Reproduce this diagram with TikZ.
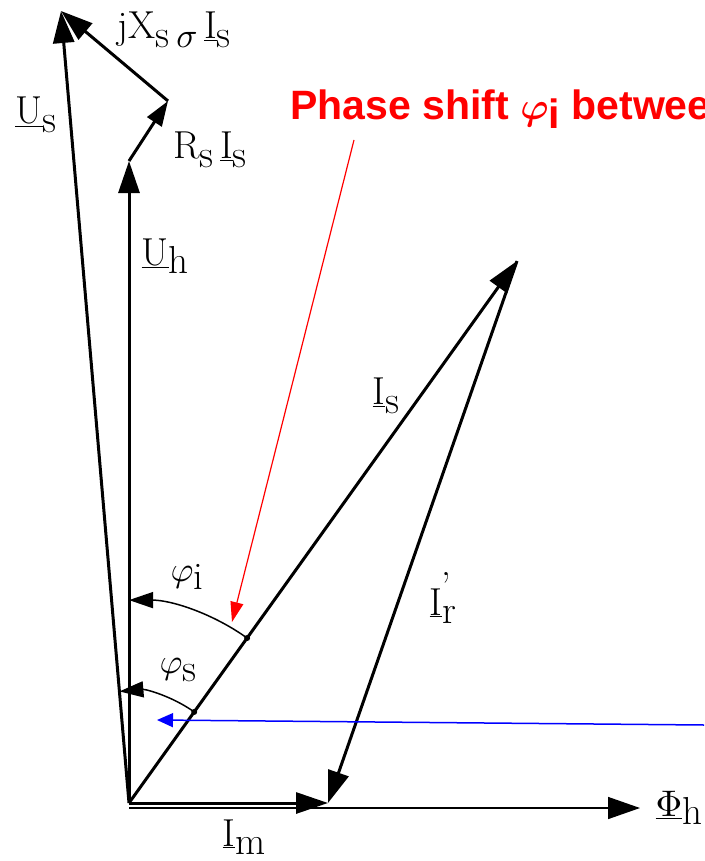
\documentclass[tikz,border=0pt]{standalone}
\usepackage{fontspec}
\usepackage{graphicx}
\usetikzlibrary{arrows.meta,calc}
\newfontfamily\redfont{Liberation Sans}
\newcommand\lsb[1]{\raisebox{-0.22em}{#1}}
\newcommand\phig{\scalebox{3.5}{\normalsize$\varphi$}}
\newcommand\sigg{\scalebox{3.5}{\normalsize$\sigma$}}
\newcommand\Phig{\scalebox{3.7}{\normalsize$\Phi$}}
\tikzset{
  vec/.style={line width=3pt, -{Triangle[length=32pt,width=21pt]}},
  smallvec/.style={line width=3pt, -{Triangle[length=25pt,width=17pt]}},
  thinvec/.style={line width=1.5pt, -{Triangle[length=32pt,width=22pt]}},
  angarr/.style={line width=1.5pt, -{Triangle[length=24pt,width=16pt]}},
  lab/.style={font=\fontsize{39}{44}\selectfont, inner sep=0pt},
  dotmark/.style={circle, fill=black, inner sep=0pt, minimum size=6pt},
}
\begin{document}
\begin{tikzpicture}[x=1pt,y=-1pt]
\useasboundingbox (0,0) rectangle (704,861);
% points
\coordinate (O) at (129,803);
\coordinate (H) at (129,161);
\coordinate (R) at (168,101);
\coordinate (S) at (61,11);
\coordinate (I) at (517,261);
\coordinate (M) at (328,803);
\coordinate (O2) at (129,808);
\coordinate (F) at (640,808);
\coordinate (redA) at (354,140);
\coordinate (redB) at (232,622);
\coordinate (blueA) at (704,725);
\coordinate (blueB) at (157,720);
% vectors
\draw[thinvec] (O2) -- (F);
\draw[vec] (O) -- (M);
\draw[vec] (O) -- (H);
\draw[smallvec] (H) -- (R);
\draw[vec] (R) -- (S);
\draw[vec] (O) -- (S);
\draw[vec] (O) -- (I);
\draw[vec] (I) -- (M);
% angle arcs
\node[dotmark] (Pi) at ($(O)+(54.4:202.9pt)$) {};
\node[dotmark] (Ps) at ($(O)+(54.4:112pt)$) {};
\draw[angarr] (Pi.center) arc[start angle=54.4, end angle=90, radius=202.9pt];
\draw[angarr] (Ps.center) arc[start angle=54.4, end angle=94.9, radius=112pt];
% red and blue pointers
\draw[red, line width=1.2pt, -{Triangle[length=20pt,width=13pt]}] (redA) -- (redB);
\draw[blue, line width=1.5pt, -{Triangle[length=16pt,width=14pt]}] (blueA) -- (blueB);
% labels
\node[lab] (lJX) at (174,30) {j\kern1pt X\lsb{s\,\sigg}\,\underline{I}\lsb{s}};
\node[lab] (lUs) at (36,115) {\underline{U}\lsb{s}};
\node[lab] (lRs) at (210,150) {R\lsb{s}\,\underline{I}\lsb{s}};
\node[lab] (lUh) at (165,256) {\underline{U}\lsb{h}};
\node[lab] (lIs) at (386,396) {\underline{I}\lsb{s}};
\node[lab] (lPi) at (187,577) {\phig\lsb{i}};
\node[lab] (lIr) at (443,598) {\underline{I}\lsb{r\llap{\raisebox{0.62em}{’\kern5pt}}}};
\node[lab] (lPs) at (178,670) {\phig\lsb{s}};
\node[lab] (lIm) at (244,837) {\underline{I}\lsb{m}};
\node[lab] (lPh) at (679,808) {\underline{\Phig}\lsb{h}};
\begin{scope}
\clip (0,0) rectangle (704,861);
\node[anchor=base west, inner sep=0pt, text=red, font=\redfont\bfseries\fontsize{41}{48}\selectfont] (title) at (290,120) {Phase shift {\boldmath\scalebox{3.8}{\normalsize\boldmath$\varphi$}}\raisebox{-0.2em}{i} between};
\end{scope}
\end{tikzpicture}
\end{document}
